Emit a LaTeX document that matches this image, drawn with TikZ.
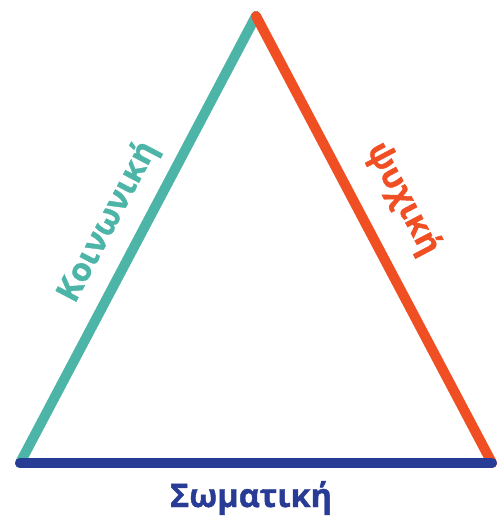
\documentclass[tikz,border=0pt]{standalone}
\usepackage{fontspec}
\setmainfont{Open Sans}[BoldFont={Open Sans Bold}, BoldFeatures={FakeBold=1.2}]
\usetikzlibrary{calc}
\definecolor{socteal}{RGB}{77,181,168}
\definecolor{psyred}{RGB}{240,78,35}
\definecolor{bodyblue}{RGB}{40,60,150}
\tikzset{
  side/.style={line width=10pt, line cap=round},
  lbl/.style={font=\fontsize{32.5}{35}\selectfont\bfseries, inner sep=0pt}
}
\begin{document}
\begin{tikzpicture}[x=1pt,y=1pt]
\useasboundingbox (0,0) rectangle (499,519);
\coordinate (top) at (256,503);
\coordinate (bl) at (20,56);
\coordinate (br) at (492,56);
% sides of the triangle
\draw[side, socteal] (bl) -- (top);
\draw[side, psyred] (top) -- (br);
\draw[side, bodyblue] (bl) -- (br);
% labels
\node[lbl, text=socteal, rotate=62.2] (soclbl) at (108,297) {Κοινωνική};
\node[lbl, text=psyred, rotate=-62.2] (psylbl) at (403,320) {ψυχική};
\node[lbl, text=bodyblue] (bodylbl) at (251,21) {Σωματική};
\end{tikzpicture}
\end{document}
